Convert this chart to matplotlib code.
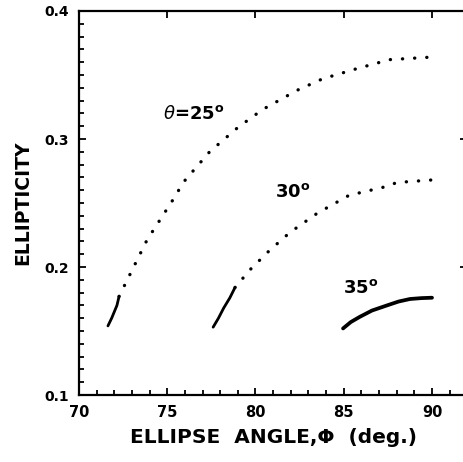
import matplotlib
matplotlib.use("Agg")
import matplotlib.pyplot as plt
from matplotlib.ticker import MultipleLocator

# Ellipticity vs ellipse angle for three incidence angles theta
# Each curve: a short solid start, then a dotted continuation
phi_25_solid = [71.64, 71.85, 72.0, 72.15, 72.27]
ell_25_solid = [0.154, 0.160, 0.165, 0.170, 0.177]
phi_25_dot = [72.27, 73.85, 75.44, 75.9, 77.4, 79.0, 80.4, 82.35, 83.8, 85.75, 87.6, 90.0]
ell_25_dot = [0.177, 0.221, 0.255, 0.266, 0.290, 0.309, 0.323, 0.338, 0.347, 0.355, 0.362, 0.364]

phi_30_solid = [77.6, 77.9, 78.2, 78.55, 78.84]
ell_30_solid = [0.153, 0.160, 0.168, 0.176, 0.184]
phi_30_dot = [78.84, 79.7, 80.8, 81.95, 83.5, 85.3, 87.45, 88.0, 90.0]
ell_30_dot = [0.184, 0.198, 0.213, 0.227, 0.242, 0.256, 0.263, 0.266, 0.268]

phi_35 = [84.96, 85.4, 85.9, 86.6, 87.45, 88.1, 88.75, 89.4, 90.0]
ell_35 = [0.152, 0.157, 0.161, 0.166, 0.170, 0.173, 0.175, 0.1757, 0.176]

labels = [r"$\theta$=25$^{\mathbf{o}}$", r"30$^{\mathbf{o}}$", r"35$^{\mathbf{o}}$"]
label_pos = [(74.75, 0.316), (81.1, 0.2545), (84.95, 0.1795)]

xticks = [70, 75, 80, 85, 90]
yticks = [0.1, 0.2, 0.3, 0.4]

plt.rcParams["font.family"] = ["DejaVu Sans"]
plt.rcParams["mathtext.fontset"] = "dejavusans"

fig = plt.figure(figsize=(4.63, 4.62), dpi=100)
ax = fig.add_axes([0.1706, 0.1450, 0.8387, 0.8312])

solid_kw = dict(color="black", lw=2.0, solid_capstyle="round")
dot_kw = dict(color="black", lw=2.4, linestyle=(0, (0.05, 3.6)), dash_capstyle="round")

ax.plot(phi_25_solid, ell_25_solid, **solid_kw)
ax.plot(phi_25_dot, ell_25_dot, **dot_kw)
ax.plot(phi_30_solid, ell_30_solid, **solid_kw)
ax.plot(phi_30_dot, ell_30_dot, **dot_kw)
ax.plot(phi_35, ell_35, color="black", lw=2.7, solid_capstyle="round")

for txt, (x, y) in zip(labels, label_pos):
    ax.text(x, y, txt, fontsize=13, fontweight="bold", ha="left", va="baseline")

ax.set_xlim(70, 92)
ax.set_ylim(0.1, 0.4)
ax.set_xticks(xticks)
ax.set_yticks(yticks)
ax.set_xticklabels([str(t) for t in xticks], fontsize=10.5, fontweight="bold")
ax.set_yticklabels([f"{t:.1f}" for t in yticks], fontsize=10, fontweight="bold")
ax.xaxis.set_minor_locator(MultipleLocator(1))
ax.yaxis.set_minor_locator(MultipleLocator(0.01))

ax.tick_params(which="both", direction="in", width=1.3, top=True, right=True)
ax.tick_params(which="major", length=5, pad=7)
ax.tick_params(which="minor", length=3.5, top=False, right=False)
for s in ax.spines.values():
    s.set_linewidth(1.6)

ax.set_xlabel("ELLIPSE  ANGLE,\u03a6  (deg.)", fontsize=14.5, fontweight="bold", labelpad=6)
ax.set_ylabel("ELLIPTICITY", fontsize=13.5, fontweight="bold", labelpad=9)

fig.savefig("out.png", dpi=100)
